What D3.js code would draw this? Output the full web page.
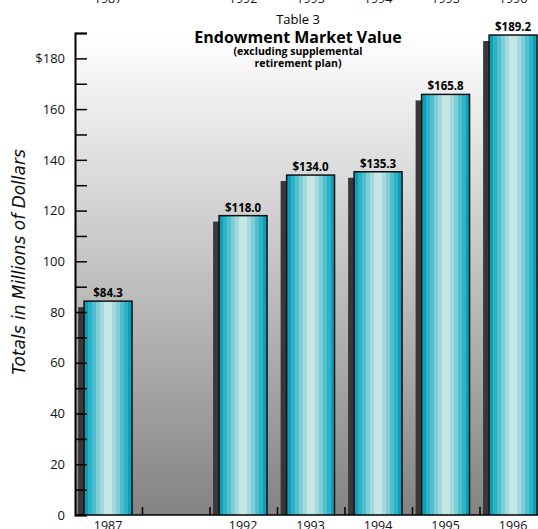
<!DOCTYPE html>
<html>
<head>
<meta charset="utf-8">
<script src="https://cdn.jsdelivr.net/npm/d3@7"></script>
<style>
  html, body { margin: 0; padding: 0; background: #fff; }
  svg { display: block; font-family: 'Open Sans', sans-serif; }
</style>
</head>
<body>
<script>
// chart data
const years = ['1987', '1992', '1993', '1994', '1995', '1996']
const values = [84.3, 118.0, 134.0, 135.3, 165.8, 189.2]
const slots = ['1987', 'gap', '1992', '1993', '1994', '1995', '1996']
const yTicks = d3.range(0, 200, 10)
const titleLines = ['Table 3', 'Endowment Market Value', '(excluding supplemental', 'retirement plan)']
const stripeColors = ['#0c9fb9', '#2db3c7', '#52bfce', '#7fcdd7', '#a3dadf', '#c4e7e4',
                      '#c4e7e4', '#a3dadf', '#7fcdd7', '#52bfce', '#2db3c7', '#0c9fb9']

const config = {
  width: 538,
  height: 529,
  left: 75,
  top: 33,
  bottom: 515,
  slotWidth: 67.5
}

const svg = d3.select('body').append('svg')
  .attr('width', config.width)
  .attr('height', config.height)

const defs = svg.append('defs')

// gray backdrop fading to white at the top
const bg = defs.append('linearGradient').attr('id', 'bg')
  .attr('x1', 0).attr('y1', 0).attr('x2', 0).attr('y2', 1)
bg.append('stop').attr('offset', 0).attr('stop-color', '#ffffff')
bg.append('stop').attr('offset', 1).attr('stop-color', '#838383')

// hard-edged stripes for the bar faces
const stripes = defs.append('linearGradient').attr('id', 'stripes')
  .attr('x1', 0).attr('y1', 0).attr('x2', 1).attr('y2', 0)
stripeColors.forEach((c, i) => {
  stripes.append('stop').attr('offset', i / stripeColors.length).attr('stop-color', c)
  stripes.append('stop').attr('offset', (i + 1) / stripeColors.length).attr('stop-color', c)
})

defs.append('clipPath').attr('id', 'plotclip')
  .append('rect')
  .attr('x', config.left).attr('y', 0)
  .attr('width', config.width - config.left).attr('height', config.bottom)

const x = d3.scaleBand()
  .domain(slots)
  .range([config.left, config.left + config.slotWidth * slots.length])
  .padding(0)

const y = d3.scaleLinear()
  .domain([0, 190])
  .range([config.bottom, config.top])

svg.append('rect')
  .attr('x', config.left)
  .attr('y', config.top)
  .attr('width', config.width - config.left)
  .attr('height', config.bottom - config.top)
  .attr('fill', 'url(#bg)')

const bw = x.bandwidth()
const faceX = d => x(d) + bw * 0.135
const faceW = bw * 0.71

const bars = svg.append('g').attr('clip-path', 'url(#plotclip)')
  .selectAll('g')
  .data(years.map((yr, i) => ({ year: yr, value: values[i] })))
  .enter().append('g')

// drop shadow, offset left and down
bars.append('rect')
  .attr('x', d => faceX(d.year) - 6)
  .attr('y', d => y(d.value) + 6)
  .attr('width', faceW)
  .attr('height', d => config.bottom - y(d.value))
  .attr('fill', '#383838')

bars.append('rect')
  .attr('x', d => faceX(d.year))
  .attr('y', d => y(d.value))
  .attr('width', faceW)
  .attr('height', d => config.bottom - y(d.value) + 4)
  .attr('fill', 'url(#stripes)')
  .attr('stroke', '#111')
  .attr('stroke-width', 1.5)

svg.selectAll('.val')
  .data(years.map((yr, i) => ({ year: yr, value: values[i] })))
  .enter().append('text')
  .attr('class', 'val')
  .attr('x', d => faceX(d.year) + faceW / 2)
  .attr('y', d => y(d.value) - 4)
  .attr('text-anchor', 'middle')
  .attr('font-size', 11.5)
  .attr('font-weight', 'bold')
  .text(d => '$' + d.value.toFixed(1))

// y axis: ticks point inward, labels every 20
const yAxis = d3.axisLeft(y)
  .tickValues(yTicks)
  .tickSizeInner(-12)
  .tickSizeOuter(-12)
  .tickPadding(10)
  .tickFormat(v => v % 20 !== 0 ? '' : (v === 180 ? '$180' : v))

const ya = svg.append('g')
  .attr('transform', `translate(${config.left},0)`)
  .call(yAxis)
ya.select('.domain').attr('stroke-width', 2)
ya.selectAll('.tick line').attr('stroke-width', 1.5)
ya.selectAll('.tick text').attr('font-size', 13).attr('fill', '#111').attr('font-family', "'Open Sans', sans-serif")

// x axis baseline with small upward ticks at slot edges
svg.append('line')
  .attr('x1', config.left).attr('x2', config.width)
  .attr('y1', config.bottom).attr('y2', config.bottom)
  .attr('stroke', '#000').attr('stroke-width', 1.5)

svg.selectAll('.xtick')
  .data(slots.slice(0, -1))
  .enter().append('line')
  .attr('class', 'xtick')
  .attr('x1', d => x(d) + bw).attr('x2', d => x(d) + bw)
  .attr('y1', config.bottom).attr('y2', config.bottom - 8)
  .attr('stroke', '#000').attr('stroke-width', 1.5)

// year labels at the bottom, and the clipped repeat along the top edge
;[530, 3].forEach(yy => {
  svg.selectAll(null)
    .data(years)
    .enter().append('text')
    .attr('x', d => faceX(d) + faceW / 2)
    .attr('y', yy)
    .attr('text-anchor', 'middle')
    .attr('font-size', 12.5)
    .attr('fill', '#111')
    .text(d => d)
})

const title = svg.append('g').attr('text-anchor', 'middle')
title.append('text').attr('x', 298).attr('y', 24).attr('font-size', 13).text(titleLines[0])
title.append('text').attr('x', 298).attr('y', 43).attr('font-size', 16).attr('font-weight', 'bold').text(titleLines[1])
title.append('text').attr('x', 298).attr('y', 55).attr('font-size', 10.5).attr('font-weight', 'bold').text(titleLines[2])
title.append('text').attr('x', 298).attr('y', 67).attr('font-size', 10.5).attr('font-weight', 'bold').text(titleLines[3])

svg.append('text')
  .attr('transform', 'translate(25,262) rotate(-90)')
  .attr('text-anchor', 'middle')
  .attr('font-size', 17)
  .attr('font-family', "'DejaVu Sans', sans-serif")
  .attr('font-style', 'italic')
  .attr('fill', '#111')
  .text('Totals in Millions of Dollars')
</script>
</body>
</html>
